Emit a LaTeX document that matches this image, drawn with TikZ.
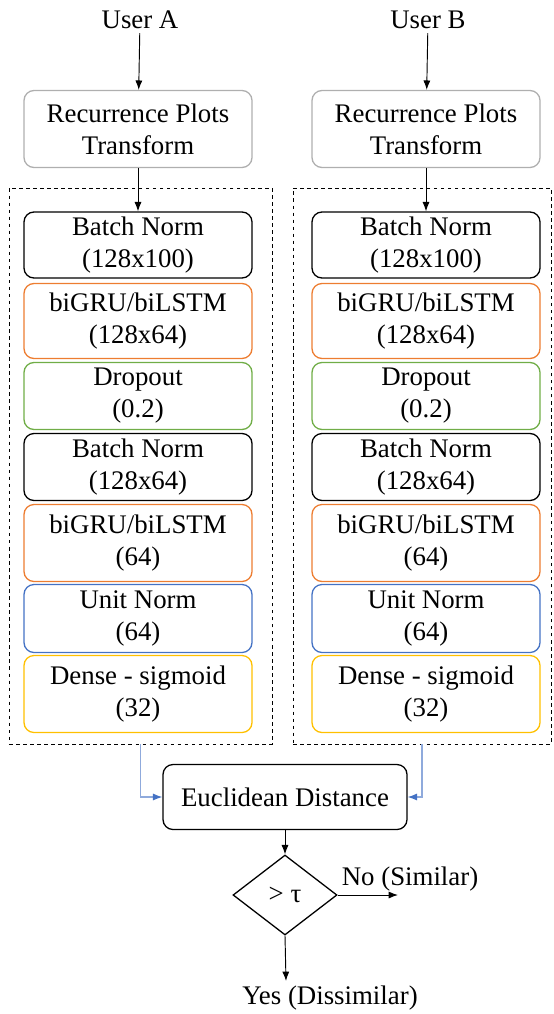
\documentclass[tikz,border=0pt]{standalone}
\usepackage{fontspec}
\setmainfont{LiberationSerif}[Extension=.ttf,UprightFont=*-Regular,BoldFont=*-Bold]
\usetikzlibrary{shapes.geometric,arrows.meta}

\definecolor{rpgray}{RGB}{175,175,175}
\definecolor{gruorange}{RGB}{237,125,49}
\definecolor{dropgreen}{RGB}{112,173,71}
\definecolor{normblue}{RGB}{68,114,196}
\definecolor{densegold}{RGB}{255,192,0}
\definecolor{linkblue}{RGB}{143,170,220}

\tikzset{
  every node/.style={font=\rmfamily\fontsize{22.9}{27.4}\selectfont},
  layer/.style={draw,rounded corners=0.3cm,minimum width=6.84cm,align=center,
    inner sep=0pt,line width=1.1pt},
  frame/.style={draw,dashed,line width=0.8pt,inner sep=0pt},
  flow/.style={-{Latex[length=8pt,width=6pt]},line width=0.8pt},
  merge/.style={-{Latex[length=8pt,width=6pt,color=normblue]},linkblue,line width=0.9pt},
}

\begin{document}
\begin{tikzpicture}[x=0.03cm,y=-0.03cm]
   \useasboundingbox (0,0) rectangle (553,1014);

   % the two identical branches
   \foreach \s/\x/\fx/\fw/\u in {a/138/140.5/7.89cm/A,b/426/422/7.74cm/B}{
       \node at (\x+2,20) (\s-user) {User \u};
       \node at (\fx,466) [frame,minimum width=\fw,minimum height=16.68cm] (\s-frame) {};
       \node at (\x,129) [layer,draw=rpgray,minimum height=2.31cm] (\s-rp) {Recurrence Plots\\Transform};
       \node at (\x,245) [layer,minimum height=1.98cm] (\s-bn1) {Batch Norm\\(128x100)};
       \node at (\x,321) [layer,draw=gruorange,minimum height=2.25cm] (\s-gru1) {biGRU/biLSTM\\(128x64)};
       \node at (\x,396) [layer,draw=dropgreen,minimum height=2.01cm] (\s-drop) {Dropout\\(0.2)};
       \node at (\x,467) [layer,minimum height=2.01cm] (\s-bn2) {Batch Norm\\(128x64)};
       \node at (\x,543) [layer,draw=gruorange,minimum height=2.31cm] (\s-gru2) {biGRU/biLSTM\\(64)};
       \node at (\x,618.5) [layer,draw=normblue,minimum height=2.04cm] (\s-unit) {Unit Norm\\(64)};
       \node at (\x,694) [layer,draw=densegold,minimum height=2.31cm] (\s-dense) {Dense - sigmoid\\(32)};
       \draw[flow] (\s-user) -- (\s-rp);
       \draw[flow] (\s-rp) -- (\s-bn1);
   }

   \node at (285,797) [layer,minimum width=7.32cm,minimum height=1.95cm] (ed) {Euclidean Distance};
   \draw[merge] (a-frame.south) |- (ed.west);
   \draw[merge] (b-frame.south) |- (ed.east);

   % threshold decision
   \node at (285,895) [diamond,draw,line width=1.1pt,minimum width=3.12cm,minimum height=2.4cm,inner sep=0pt] (thr) {> τ};
   \coordinate (no) at (398,895);
   \coordinate (yes) at (286,981);
   \draw[flow] (ed.south) -- (thr.north);
   \draw[flow] (thr.east) -- (no);
   \draw[flow] (thr.south) -- (yes);
   \node at (410,879) (nolabel) {No (Similar)};
   \node at (330,998) (yeslabel) {Yes (Dissimilar)};
\end{tikzpicture}
\end{document}
